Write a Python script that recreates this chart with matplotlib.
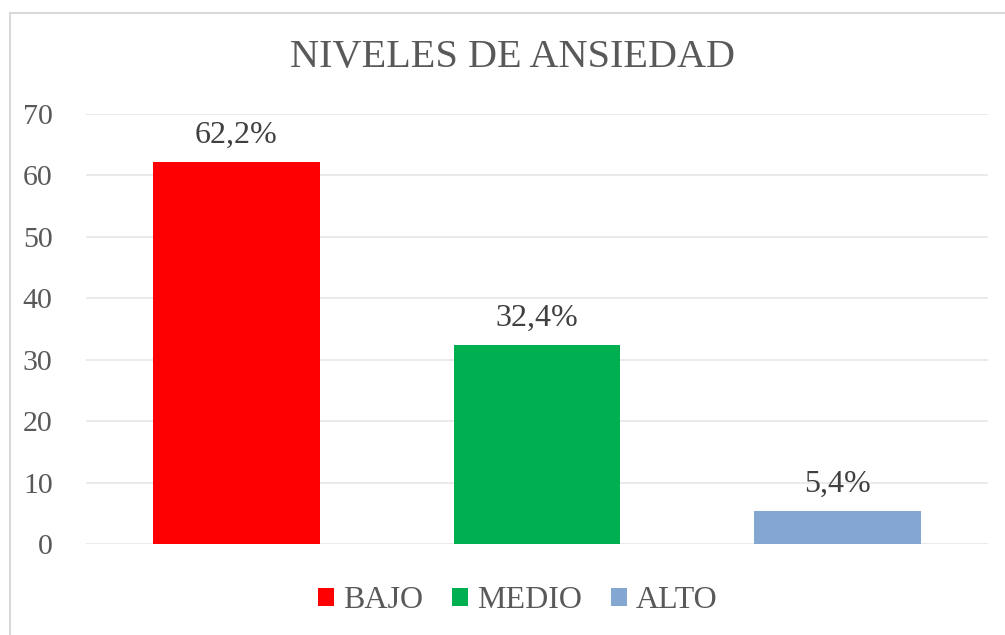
import matplotlib.pyplot as plt
from matplotlib.patches import Rectangle

# data
categories = ["BAJO", "MEDIO", "ALTO"]
values = [62.2, 32.4, 5.4]
labels = ["62,2%", "32,4%", "5,4%"]
colors = ["#FF0000", "#00B050", "#84A7D1"]

plt.rcParams['font.family'] = ['Liberation Serif', 'DejaVu Serif']

fig = plt.figure(figsize=(10.05, 6.35), dpi=100)
ax = fig.add_axes([86 / 1005, 0.1433, 902 / 1005, 0.6772])

# outer chart frame (cropped at right/bottom)
fig.patches.append(Rectangle((10 / 1005, -0.2), 1.2, (635 - 13) / 635 + 0.2,
                             transform=fig.transFigure, fill=False,
                             edgecolor="#D9D9D9", linewidth=1.5))

x = range(len(categories))
bars = ax.bar(x, values, width=0.555, color=colors, label=categories, zorder=2)

for b, lab in zip(bars, labels):
    ax.text(b.get_x() + b.get_width() / 2, b.get_height() + 2.0, lab,
            ha='center', va='bottom', fontsize=23, color='#404040')

ax.set_xlim(-0.5, 2.5)
ax.set_ylim(0, 70)
ax.set_yticks(range(0, 71, 10))
ax.set_xticks([])
ax.tick_params(axis='y', length=0, pad=24, labelsize=21.5, labelcolor='#595959')
ax.grid(axis='y', color='#E6E6E6', linewidth=1.2, zorder=0)
for s in ax.spines.values():
    s.set_visible(False)

fig.text(512 / 1005, 1 - 57 / 635, "NIVELES DE ANSIEDAD", ha='center',
         va='center', fontsize=29, color='#595959')

fig.legend(handles=bars, labels=categories, loc='center',
           bbox_to_anchor=(518 / 1005, 1 - 601 / 635), ncol=3, frameon=False,
           fontsize=23, labelcolor='#595959', handlelength=0.5,
           handleheight=0.5, handletextpad=0.28, columnspacing=0.9)

fig.savefig("out.png", dpi=100)
